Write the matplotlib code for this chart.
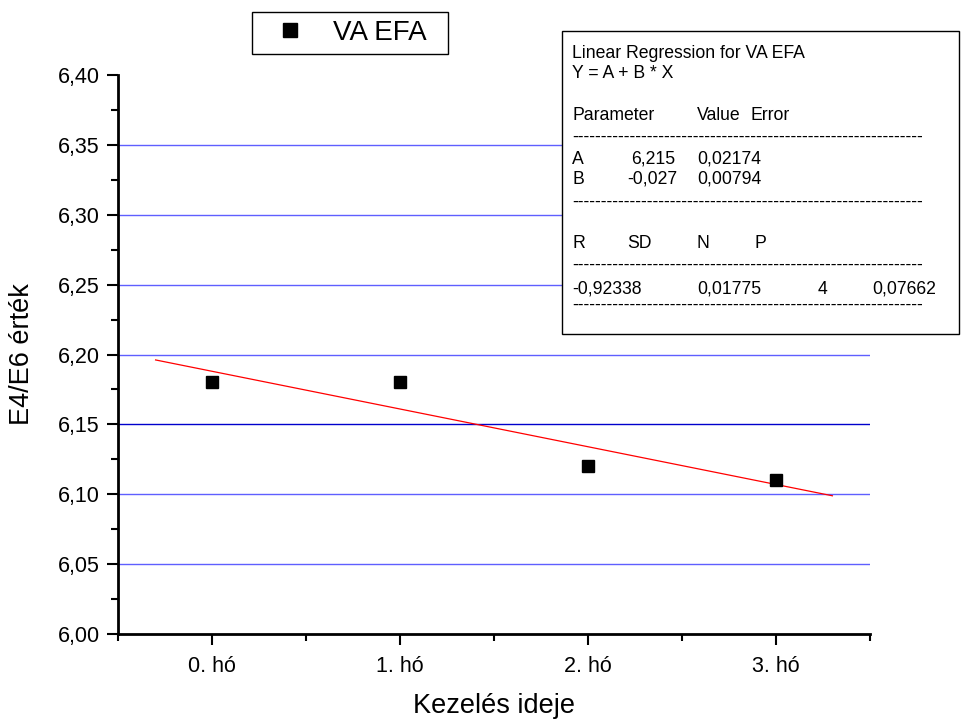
import matplotlib
matplotlib.use("Agg")
import matplotlib.pyplot as plt
from matplotlib.ticker import MultipleLocator, FuncFormatter, FixedLocator
from matplotlib.patches import Rectangle
import numpy as np

# ---- data ----
months = ["0. hó", "1. hó", "2. hó", "3. hó"]
values = [6.18, 6.18, 6.12, 6.11]
series_name = "VA EFA"
fit_A = 6.215
fit_B = -0.027
fit_x_range = [-0.3, 3.3]
grid_levels = [6.05, 6.10, 6.15, 6.20, 6.25, 6.30, 6.35]
stats_rows = [
    ["A", "6,215", "0,02174"],
    ["B", "-0,027", "0,00794"],
]
stats_header = ["Parameter", "Value", "Error"]
rs_header = ["R", "SD", "N", "P"]
rs_values = ["-0,92338", "0,01775", "4", "0,07662"]

plt.rcParams['font.family'] = ['Liberation Sans', 'DejaVu Sans']

W, H = 968, 724
fig = plt.figure(figsize=(W / 100, H / 100), dpi=100)

def fx(x):
    return x / W

def fy(y):
    return 1 - y / H

ax = fig.add_axes([fx(118), fy(634), fx(870) - fx(118), fy(75) - fy(634)])
ax.set_xlim(-0.5, 3.5)
ax.set_ylim(6.0, 6.4)

for s in ["top", "right"]:
    ax.spines[s].set_visible(False)
for s in ["left", "bottom"]:
    ax.spines[s].set_linewidth(2)

for g in grid_levels:
    col = "#0000cc" if abs(g - 6.15) < 1e-9 else "#5f5fff"
    ax.axhline(g, color=col, lw=1.0, zorder=1)

xs = np.arange(len(months))
ax.plot(xs, values, ls="none", marker="s", ms=8, color="black", zorder=3,
        label=series_name)

fx_line = np.array(fit_x_range)
ax.plot(fx_line, fit_A + fit_B * (fx_line + 1), color="red", lw=0.9, zorder=2)

ax.xaxis.set_major_locator(FixedLocator(xs))
ax.set_xticklabels(months)
ax.xaxis.set_minor_locator(FixedLocator([-0.5, 0.5, 1.5, 2.5, 3.5]))
ax.yaxis.set_major_locator(MultipleLocator(0.05))
ax.yaxis.set_minor_locator(MultipleLocator(0.025))
ax.yaxis.set_major_formatter(FuncFormatter(lambda v, p: f"{v:.2f}".replace(".", ",")))
ax.tick_params(which="major", direction="out", length=8, width=1.5, labelsize=15.5, pad=5)
ax.tick_params(which="minor", direction="out", length=5, width=1.5)
ax.tick_params(axis="x", which="major", pad=8)

ax.set_xlabel("Kezelés ideje", fontsize=19.5)
ax.set_ylabel("E4/E6 érték", fontsize=19.5)
ax.xaxis.set_label_coords(0.5, (634 - 693) / 559)
ax.yaxis.set_label_coords((35 - 118) / 752, 0.5)

# legend: frame drawn separately
fig.patches.append(Rectangle((fx(252), fy(54)), fx(448) - fx(252), fy(12) - fy(54),
                             transform=fig.transFigure, facecolor="white",
                             edgecolor="black", lw=1.0, zorder=4))
leg = fig.legend(loc="center left", bbox_to_anchor=(fx(262), fy(33)), borderaxespad=0,
                 fontsize=20, handlelength=2.0, handletextpad=0.55, borderpad=0.0,
                 frameon=False, markerscale=1.25)
leg.set_zorder(5)

# regression info box
fig.patches.append(Rectangle((fx(562), fy(334)), fx(959) - fx(562), fy(31) - fy(334),
                             transform=fig.transFigure, facecolor="white",
                             edgecolor="black", lw=1.0, zorder=5))
fs = 12.7
def t(x, y, s):
    # y: vertical centre of capital letters
    fig.text(fx(x), fy(y + 6), s, fontsize=fs, ha="left", va="baseline", zorder=6)

dashes = "-" * 61
t(572, 52, "Linear Regression for " + series_name)
t(572, 72, "Y = A + B * X")
for x, s in zip([572, 697, 751], stats_header):
    t(x, 114, s)
t(572, 136, dashes)
for y, row in zip([158, 178], stats_rows):
    for x, s in zip([572, 631 if row[1][0] != "-" else 627, 697], row):
        t(x, y, s)
t(572, 201, dashes)
for x, s in zip([572, 627, 697, 754], rs_header):
    t(x, 242, s)
t(572, 264, dashes)
for x, s in zip([572, 697, 818, 872], rs_values):
    t(x, 288, s)
t(572, 304, dashes)

fig.savefig("out.png", dpi=100)
